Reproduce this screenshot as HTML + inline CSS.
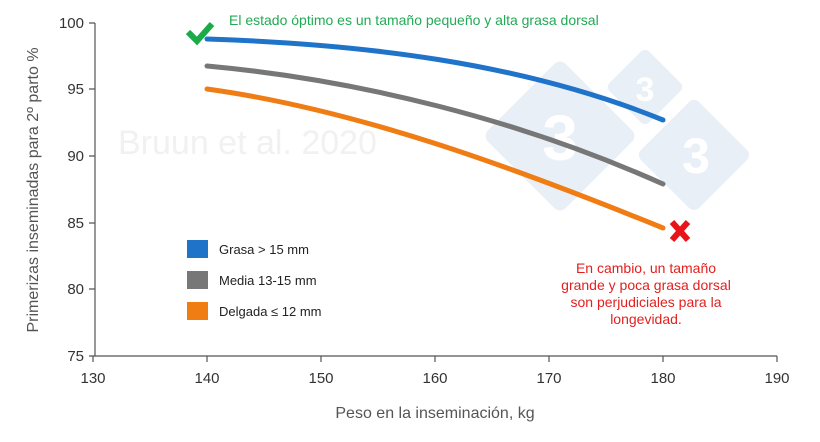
<!DOCTYPE html><html><head><style>body{margin:0;background:#fff}svg{display:block}text{font-family:"Liberation Sans",sans-serif}</style></head><body>
<svg width="820" height="442" viewBox="0 0 820 442">
<g fill="#e9eff7">
<rect x="505" y="81" width="110" height="110" transform="rotate(45 560 136)" rx="8"/>
<rect x="617" y="59" width="56" height="56" transform="rotate(45 645 87)" rx="6"/>
<rect x="653" y="114" width="82" height="82" transform="rotate(45 694 155)" rx="7"/>
</g>
<g fill="#fff" font-weight="bold" text-anchor="middle"><text x="560" y="160" font-size="64">3</text><text x="645" y="101" font-size="34">3</text><text x="696" y="173" font-size="50">3</text></g>
<text x="118" y="154" font-size="34" fill="#f1f1f1">Bruun et al. 2020</text>
<g stroke="#555" stroke-width="1.2" fill="none"><path d="M95,23V356H777"/>
<path d="M89,23h6M89,89h6M89,156h6M89,223h6M89,289h6M89,356h6M93,356v6M207,356v6M321,356v6M435,356v6M549,356v6M663,356v6M777,356v6"/></g>
<g font-size="15" fill="#333" text-anchor="end"><text x="84" y="28">100</text><text x="84" y="94">95</text><text x="84" y="161">90</text><text x="84" y="228">85</text><text x="84" y="294">80</text><text x="84" y="361">75</text></g>
<g font-size="15" fill="#333" text-anchor="middle"><text x="93" y="383">130</text><text x="207" y="383">140</text><text x="321" y="383">150</text><text x="435" y="383">160</text><text x="549" y="383">170</text><text x="663" y="383">180</text><text x="777" y="383">190</text></g>
<text x="435" y="418" font-size="16" fill="#555" text-anchor="middle">Peso en la inseminación, kg</text>
<text transform="translate(38 190) rotate(-90)" font-size="16" fill="#555" text-anchor="middle">Primerizas inseminadas para 2º parto %</text>
<g fill="none" stroke-width="5" stroke-linecap="round" stroke-linejoin="round">
<path stroke="#1f74c9" d="M207,39 C360,44 520,62 663,120"/>
<path stroke="#777" d="M207,66 C360,80 520,120 663,184"/>
<path stroke="#f07c14" d="M207,89 C360,110 520,170 663,228"/>
</g>
<path d="M188,32 L197,41 L212,24" stroke="#1aaa4a" stroke-width="6" fill="none"/>
<text x="229" y="25" font-size="14" fill="#22aa55">El estado óptimo es un tamaño pequeño y alta grasa dorsal</text>
<path d="M672,222 L688,240 M688,222 L672,240" stroke="#e8141a" stroke-width="6"/>
<g font-size="14" fill="#e32020" text-anchor="middle"><text x="646" y="273">En cambio, un tamaño</text><text x="646" y="290">grande y poca grasa dorsal</text><text x="646" y="307">son perjudiciales para la</text><text x="646" y="324">longevidad.</text></g>
<rect x="187" y="240" width="21" height="18" fill="#1f74c9"/><rect x="187" y="271" width="21" height="18" fill="#777"/><rect x="187" y="302" width="21" height="18" fill="#f07c14"/>
<g font-size="13" fill="#222"><text x="219" y="254">Grasa &gt; 15 mm</text><text x="219" y="285">Media 13-15 mm</text><text x="219" y="316">Delgada ≤ 12 mm</text></g>
</svg></body></html>
